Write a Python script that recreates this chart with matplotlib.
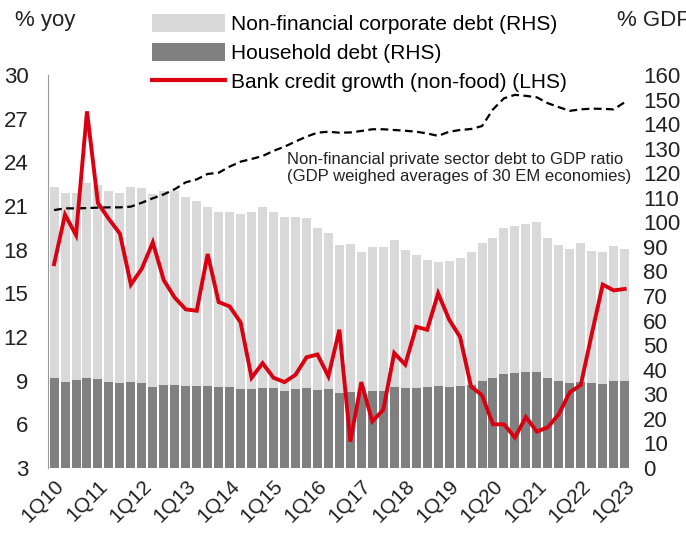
import numpy as np
import matplotlib.pyplot as plt
from matplotlib.patches import Patch
from matplotlib.lines import Line2D

plt.rcParams['font.family'] = ['Liberation Sans', 'DejaVu Sans']

# quarterly, 1Q10 .. 1Q23
quarters = [f"{q}Q{y:02d}" for y in range(10, 24) for q in range(1, 5)][:53]

# total private debt bars (% GDP, RHS) and household part
total_debt = [114.3, 111.8, 112.1, 116.2, 115.2, 112.9, 111.8, 114.5, 114.0, 111.6,
              112.8, 112.9, 110.5, 108.6, 106.1, 104.2, 104.4, 103.5, 104.2, 106.1,
              104.4, 102.1, 102.2, 101.7, 97.6, 95.8, 90.6, 91.1, 88.1, 90.1,
              90.0, 92.8, 88.6, 86.7, 84.7, 84.0, 84.4, 85.6, 87.8, 91.6,
              93.5, 97.6, 98.5, 99.3, 100.3, 93.5, 90.8, 89.0, 91.7, 88.4,
              88.1, 90.5, 89.2]
household = [36.5, 35.1, 35.8, 36.5, 36.1, 35.1, 34.5, 34.9, 34.5, 33.1,
             33.7, 33.9, 33.4, 33.4, 33.4, 33.1, 32.8, 32.0, 32.2, 32.7,
             32.4, 31.5, 32.0, 32.4, 31.8, 32.0, 30.4, 31.1, 31.1, 31.5,
             31.4, 33.1, 32.4, 32.7, 33.1, 33.4, 33.1, 33.4, 33.8, 35.4,
             36.5, 38.3, 38.5, 39.0, 39.2, 36.5, 35.4, 34.5, 35.1, 34.5,
             34.2, 35.4, 35.4]
corporate = [t - h for t, h in zip(total_debt, household)]

# bank credit growth (non-food), % yoy, LHS
credit_growth = [17.0, 20.4, 19.0, 27.5, 21.2, 20.1, 19.1, 15.6, 16.7, 18.5,
                 15.9, 14.7, 13.9, 13.8, 17.7, 14.4, 14.1, 13.0, 9.2, 10.2,
                 9.2, 8.9, 9.4, 10.6, 10.8, 9.3, 12.5, 4.8, 8.9, 6.2,
                 7.0, 10.9, 10.1, 12.7, 12.5, 15.0, 13.2, 12.0, 8.6, 8.0,
                 6.0, 6.0, 5.1, 6.5, 5.5, 5.8, 6.7, 8.2, 8.7, 12.2,
                 15.6, 15.2, 15.3]

# non-financial private sector debt to GDP ratio (RHS)
debt_ratio = [105.0, 105.7, 105.7, 105.8, 106.0, 106.1, 106.1, 106.4, 108.0, 109.8,
              111.4, 113.5, 116.3, 117.5, 119.7, 120.2, 122.7, 124.7, 125.8, 127.0,
              129.1, 130.8, 132.9, 134.9, 136.5, 136.9, 136.5, 136.6, 137.2, 137.9,
              137.9, 137.6, 137.3, 136.9, 136.2, 135.2, 136.9, 137.6, 138.0, 139.2,
              146.0, 150.5, 151.9, 151.5, 150.9, 148.5, 146.9, 145.4, 146.0, 146.3,
              146.2, 146.0, 148.9]

x = np.arange(len(quarters))
light = '#d9d9d9'
dark = '#808080'
red = '#db0011'

fig = plt.figure(figsize=(6.86, 5.34), dpi=100)
ax = fig.add_axes([0.070, 0.1236, 0.851, 0.736])
ax2 = ax.twinx()

ax2.bar(x, household, width=0.82, color=dark, linewidth=0)
ax2.bar(x, corporate, bottom=household, width=0.82, color=light, linewidth=0)
ax2.plot(x, debt_ratio, color='black', lw=1.6, ls=(0, (3.5, 2)))
ax.plot(x, credit_growth, color=red, lw=2.8, solid_joinstyle='miter')

ax.set_zorder(ax2.get_zorder() + 1)
ax.patch.set_visible(False)

ax.set_xlim(-0.55, 52.65)
ax.set_ylim(3, 30)
ax2.set_ylim(0, 160)
ax.set_yticks(np.arange(3, 31, 3))
ax2.set_yticks(np.arange(0, 161, 10))
ax.set_xticks(x[::4])
ax.set_xticklabels(quarters[::4], rotation=45, ha='right', rotation_mode='anchor')

for a in (ax, ax2):
    for s in a.spines.values():
        s.set_visible(False)
    a.tick_params(length=0, labelsize=16, colors='#222222')
ax.tick_params(axis='x', labelsize=15, pad=6)
ax.spines['left'].set_visible(True)
ax.spines['left'].set_color('#999999')
ax.spines['left'].set_linewidth(0.8)
ax.tick_params(axis='y', pad=14)
ax2.tick_params(axis='y', pad=8)

for lab in ax2.get_yticklabels():
    lab.set_horizontalalignment('left')

fig.text(0.022, 0.962, '% yoy', fontsize=16, va='center', color='#222222')
fig.text(0.899, 0.962, '% GDP', fontsize=16, va='center', color='#222222')

ax2.text(0.419, 0.716, 'Non-financial private sector debt to GDP ratio\n(GDP weighed averages of 30 EM economies)',
         transform=fig.transFigure, fontsize=12,
         va='top', ha='left', linespacing=1.2, color='#222222')

handles = [Patch(facecolor=light, edgecolor='none'),
           Patch(facecolor=dark, edgecolor='none'),
           Line2D([], [], color=red, lw=3)]
labels = ['Non-financial corporate debt (RHS)', 'Household debt (RHS)',
          'Bank credit growth (non-food) (LHS)']
fig.legend(handles, labels, loc='upper left', bbox_to_anchor=(0.203, 0.997),
           frameon=False, fontsize=15, handlelength=3.5, handleheight=0.95,
           handletextpad=0.3, labelspacing=0.42, borderaxespad=0.2)

fig.savefig('out.png', dpi=100)
